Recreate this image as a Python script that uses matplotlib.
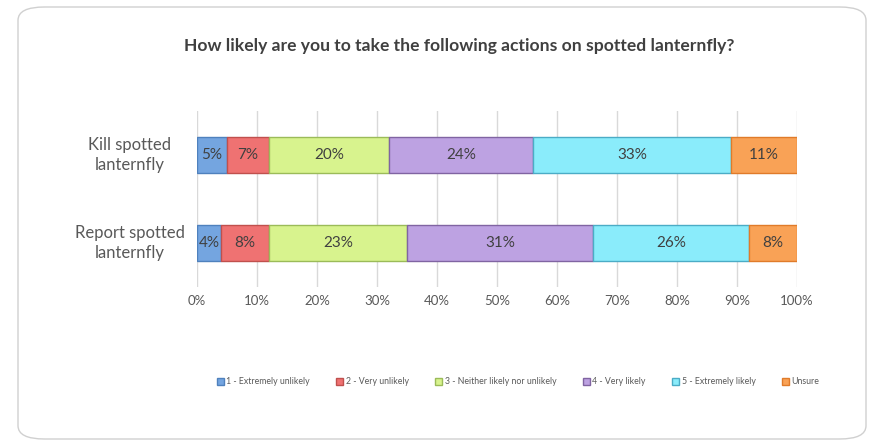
import matplotlib.pyplot as plt
from matplotlib.patches import FancyBboxPatch, Patch

# Survey responses (percent of respondents)
actions = ["Report spotted\nlanternfly", "Kill spotted\nlanternfly"]
levels = [
    "1 - Extremely unlikely",
    "2 - Very unlikely",
    "3 - Neither likely nor unlikely",
    "4 - Very likely",
    "5 - Extremely likely",
    "Unsure",
]
report_pct = [4, 8, 23, 31, 26, 8]
kill_pct = [5, 7, 20, 24, 33, 11]
ticks = [0, 10, 20, 30, 40, 50, 60, 70, 80, 90, 100]

fills = ["#74A5E0", "#EF7272", "#D8F38E", "#BDA2E2", "#8AECFB", "#F9A256"]
edges = ["#4F81BD", "#C0504D", "#9BBB59", "#8064A2", "#4BACC6", "#E07B2A"]

plt.rcParams["font.family"] = ["Lato", "DejaVu Sans"]

fig = plt.figure(figsize=(8.84, 4.43), dpi=100)
fig.patches.append(FancyBboxPatch((18 / 884, 4 / 443), 848 / 884, 432 / 443,
                                  boxstyle="round,pad=0,rounding_size=0.03",
                                  transform=fig.transFigure, facecolor="none",
                                  edgecolor="#D0D0D0", linewidth=1.0, zorder=-1))

ax = fig.add_axes([197 / 884, 156 / 443, 600 / 884, 176 / 443])
ax.set_facecolor("none")

rows = [report_pct, kill_pct]
for y, vals in enumerate(rows):
    left = 0
    for i, v in enumerate(vals):
        ax.barh(y, v, left=left, height=0.41, color=fills[i],
                edgecolor=edges[i], linewidth=1.0, zorder=3)
        ax.text(left + v / 2, y, f"{v}%", ha="center", va="center",
                fontsize=11, color="#404040", zorder=4)
        left += v

ax.set_xlim(0, 100)
ax.set_ylim(-0.5, 1.5)
ax.set_xticks(ticks)
ax.set_xticklabels([f"{t}%" for t in ticks], fontsize=9.5, color="#595959")
ax.tick_params(axis="x", length=0, pad=6)
ax.set_yticks([0, 1])
ax.set_yticklabels([])
ax.tick_params(axis="y", length=0)
ax.grid(axis="x", color="#D9D9D9", linewidth=1.0, zorder=0)
for s in ax.spines.values():
    s.set_visible(False)

for y, name in enumerate(actions):
    ax.text(-11.2, y, name, ha="center", va="center", multialignment="center",
            fontsize=12, color="#595959", linespacing=1.3)

fig.text(459 / 884, 1 - 46 / 443,
         "How likely are you to take the following actions on spotted lanternfly?",
         ha="center", va="center", fontsize=12.6, fontweight="bold", color="#404040")

handles = [Patch(facecolor=fills[i], edgecolor=edges[i], label=levels[i])
           for i in range(len(levels))]
fig.legend(handles=handles, loc="center", bbox_to_anchor=(518 / 884, 1 - 382 / 443),
           ncol=6, frameon=False, fontsize=6.3, handlelength=0.8, handleheight=0.8,
           handletextpad=0.3, columnspacing=3.0, labelcolor="#595959")

fig.savefig("out.png", dpi=100)
